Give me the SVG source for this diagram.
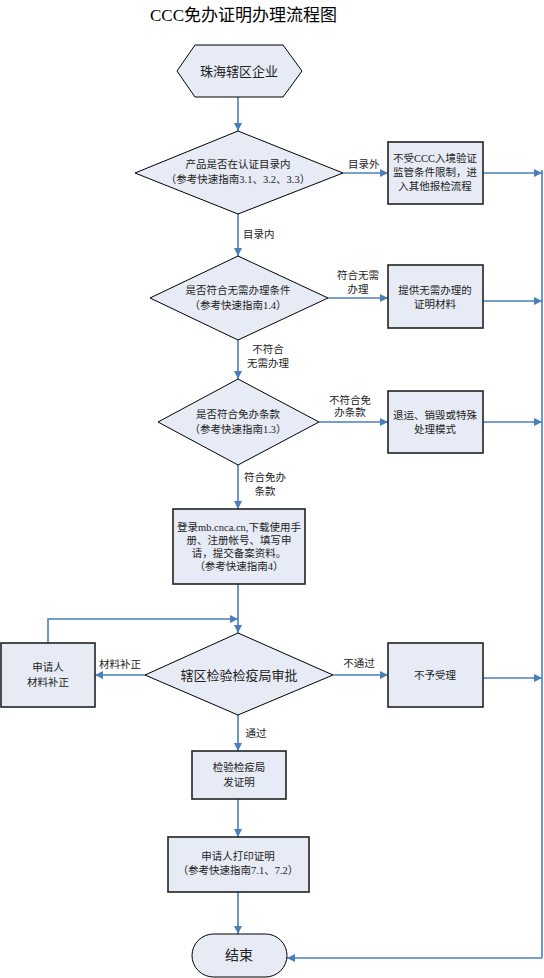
<svg xmlns="http://www.w3.org/2000/svg" width="544" height="978" viewBox="0 0 544 978">
<defs>
<marker id="ah" viewBox="0 0 10 10" refX="10" refY="5" markerWidth="8" markerHeight="8" markerUnits="userSpaceOnUse" orient="auto">
<path d="M0,0 L10,5 L0,10 Z" fill="#4a7ebb"/>
</marker>
<style>
.n{fill:#e6ebf5;stroke:#000;stroke-width:1}
.b{fill:#e6ebf5;stroke:#222;stroke-width:1.6}
.c{fill:none;stroke:#4a7ebb;stroke-width:1.6;marker-end:url(#ah)}
.cl{fill:none;stroke:#4a7ebb;stroke-width:1.6}
text{font-family:"Liberation Serif","Noto Sans CJK SC",serif;font-size:10.5px;fill:#222;text-anchor:middle}
.l{text-anchor:start}
.t{font-size:17px;fill:#000;text-anchor:start}
.m{font-size:13px}
</style>
</defs>
<rect width="544" height="978" fill="#fff"/>
<text class="t" x="150" y="21">CCC免办证明办理流程图</text>

<g id="connectors">
<path class="c" d="M238,97 V131"/>
<path class="c" d="M238,214 V256"/>
<path class="c" d="M238,340 V379"/>
<path class="c" d="M238,465 V509"/>
<path class="c" d="M238,584 V633"/>
<path class="c" d="M238,715 V751"/>
<path class="c" d="M238,799 V837"/>
<path class="c" d="M238,892 V934"/>
<path class="c" d="M343,173 H388"/>
<path class="c" d="M328,298 H388"/>
<path class="c" d="M319,422 H388"/>
<path class="c" d="M333,675 H388"/>
<path class="c" d="M145,675 H95"/>
<path class="c" d="M48,643 V619 H238"/>
<path class="c" d="M483,173 H542"/>
<path class="c" d="M483,301 H542"/>
<path class="c" d="M483,422 H542"/>
<path class="c" d="M483,678 H542"/>
<path class="cl" d="M542,170 V958"/>
<path class="c" d="M542,958 H287"/>
<text class="l" x="348" y="168">目录外</text>
<text class="l" x="243" y="238">目录内</text>
<text x="358" y="279">符合无需</text>
<text x="358" y="293">办理</text>
<text x="268" y="353">不符合</text>
<text x="268" y="367">无需办理</text>
<text x="350" y="404">不符合免</text>
<text x="350" y="416">办条款</text>
<text x="265" y="481">符合免办</text>
<text x="265" y="495">条款</text>
<text x="120" y="668">材料补正</text>
<text x="359" y="667">不通过</text>
<text x="256" y="737">通过</text>
</g>

<g id="start">
<polygon class="n" points="177,71 195,45 283,45 302,71 283,97 195,97"/>
<text class="m" x="239" y="76">珠海辖区企业</text>
</g>

<g id="d1">
<polygon class="n" points="238,131 343,173 238,214 135,173"/>
<text x="238" y="168">产品是否在认证目录内</text>
<text x="238" y="183">（参考快速指南3.1、3.2、3.3）</text>
</g>

<g id="b1">
<rect class="b" x="388" y="142" width="95" height="62"/>
<text x="435" y="162">不受CCC入境验证</text>
<text x="435" y="176">监管条件限制，进</text>
<text x="435" y="190">入其他报检流程</text>
</g>

<g id="d2">
<polygon class="n" points="238,256 328,298 238,340 150,298"/>
<text x="238" y="294">是否符合无需办理条件</text>
<text x="238" y="309">（参考快速指南1.4）</text>
</g>

<g id="b2">
<rect class="b" x="388" y="265" width="95" height="63"/>
<text x="435" y="294">提供无需办理的</text>
<text x="435" y="308">证明材料</text>
</g>

<g id="d3">
<polygon class="n" points="238,379 319,422 238,465 158,422"/>
<text x="238" y="418">是否符合免办条款</text>
<text x="238" y="433">（参考快速指南1.3）</text>
</g>

<g id="b3">
<rect class="b" x="388" y="391" width="95" height="62"/>
<text x="435" y="419">退运、销毁或特殊</text>
<text x="435" y="433">处理模式</text>
</g>

<g id="b4">
<rect class="b" x="173" y="509" width="132" height="75"/>
<text x="239" y="531">登录mb.cnca.cn,下载使用手</text>
<text x="239" y="544">册、注册帐号、填写申</text>
<text x="239" y="557">请，提交备案资料。</text>
<text x="239" y="570">（参考快速指南4）</text>
</g>

<g id="d4">
<polygon class="n" points="238,633 333,675 238,715 145,675"/>
<text class="m" x="239" y="680">辖区检验检疫局审批</text>
</g>

<g id="b5">
<rect class="b" x="1" y="643" width="94" height="64"/>
<text x="48" y="671">申请人</text>
<text x="48" y="686">材料补正</text>
</g>

<g id="b6">
<rect class="b" x="388" y="643" width="95" height="64"/>
<text x="435" y="679">不予受理</text>
</g>

<g id="b7">
<rect class="b" x="192" y="751" width="94" height="48"/>
<text x="239" y="771">检验检疫局</text>
<text x="239" y="786">发证明</text>
</g>

<g id="b8">
<rect class="b" x="168" y="837" width="141" height="55"/>
<text x="238" y="860">申请人打印证明</text>
<text x="238" y="874">（参考快速指南7.1、7.2）</text>
</g>

<g id="end">
<rect class="n" x="192" y="934" width="95" height="43" rx="21.5" ry="21.5"/>
<text class="m" x="239" y="960" style="font-size:14px">结束</text>
</g>
</svg>
